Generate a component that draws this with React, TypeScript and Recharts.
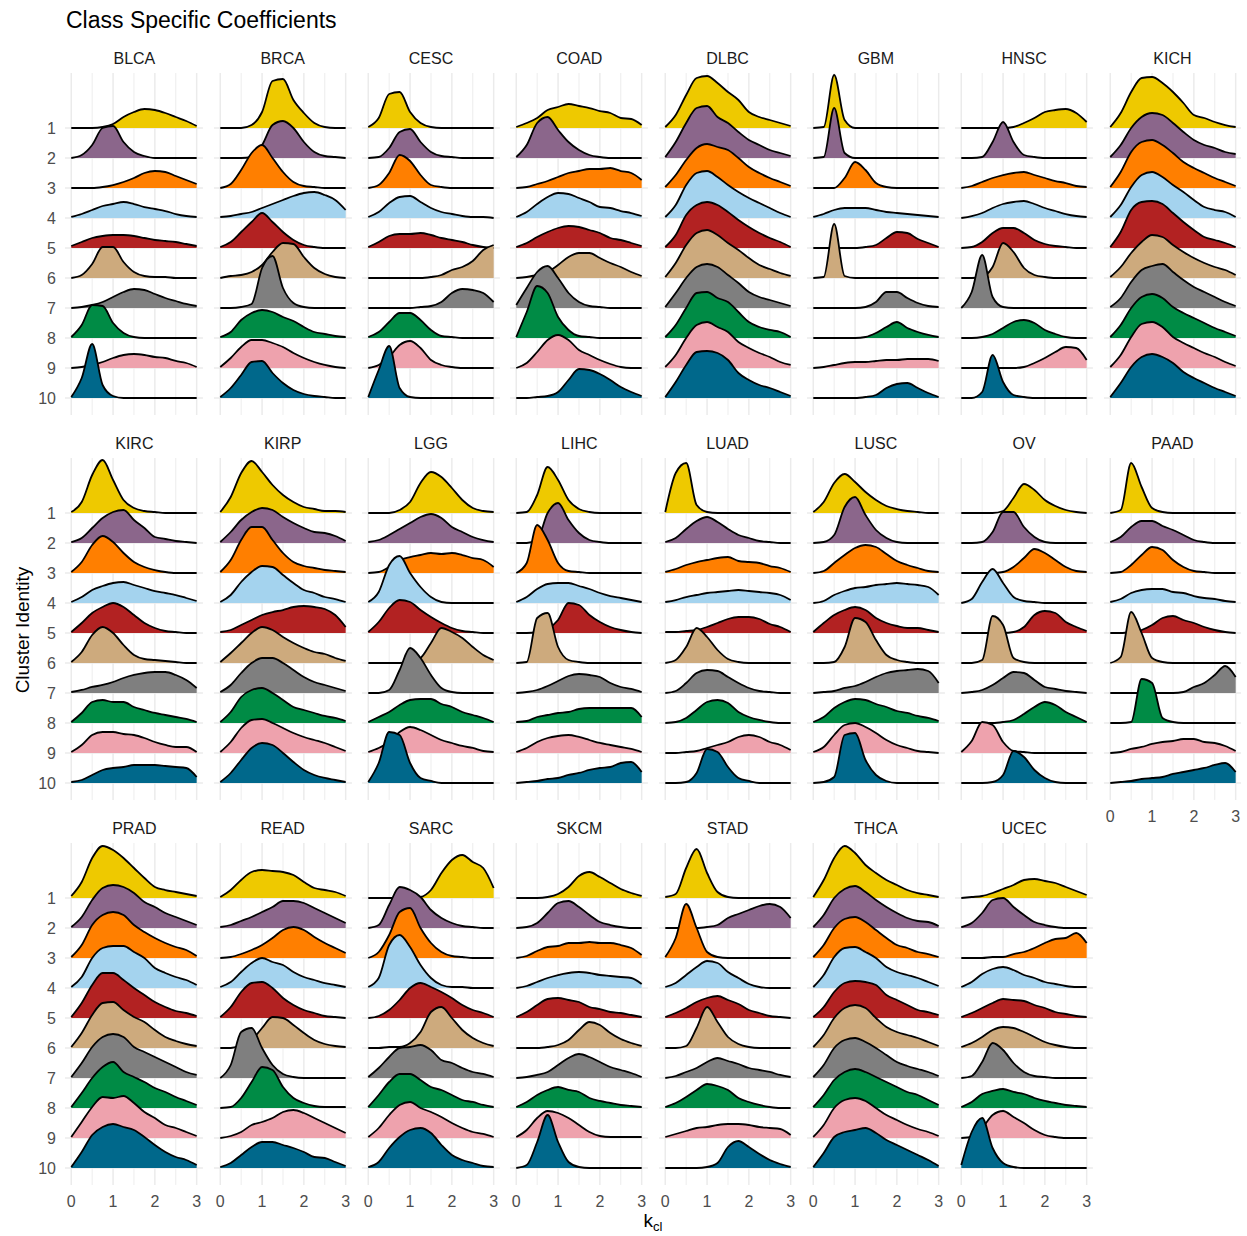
import React from 'react';
import { AreaChart, Area, XAxis, YAxis, CartesianGrid } from 'recharts';

// sample positions of the density curves (k_cl)
const K_VALUES = [0, 0.25, 0.5, 0.75, 1, 1.25, 1.5, 1.75, 2, 2.25, 2.5, 2.75, 3];
const CLUSTERS = ['1', '2', '3', '4', '5', '6', '7', '8', '9', '10'];
const CLUSTER_COLORS = ['#EEC900', '#8B668B', '#FF7F00', '#A4D3EE', '#B22222', '#CDAA7D', '#7F7F7F', '#008B45', '#EEA2AD', '#00688B'];
const X_TICKS = [0, 1, 2, 3];
const X_MINOR = [0.5, 1.5, 2.5];
const CANCER_TYPES = ['BLCA', 'BRCA', 'CESC', 'COAD', 'DLBC', 'GBM', 'HNSC', 'KICH', 'KIRC', 'KIRP', 'LGG', 'LIHC', 'LUAD', 'LUSC', 'OV', 'PAAD', 'PRAD', 'READ', 'SARC', 'SKCM', 'STAD', 'THCA', 'UCEC'];

// ridge heights (scaled density; one row spacing = 30), cluster 1..10, at K_VALUES
const BLCA = [
  [0, 0, 0, 1, 4, 11, 16, 19, 18, 15, 11, 7, 2],
  [0, 3, 13, 30, 32, 16, 6, 2, 0, 0, 0, 0, 0],
  [0, 0, 0, 1, 3, 6, 10, 15, 17, 16, 12, 8, 4],
  [1, 4, 8, 12, 14, 16, 14, 11, 9, 7, 4, 2, 1],
  [2, 6, 10, 12, 13, 13, 12, 10, 8, 7, 6, 4, 2],
  [0, 3, 14, 31, 31, 16, 6, 2, 1, 1, 0, 0, 0],
  [0, 1, 3, 6, 11, 16, 19, 18, 14, 10, 7, 4, 2],
  [1, 13, 33, 32, 15, 5, 1, 0, 0, 0, 0, 0, 0],
  [0, 1, 3, 6, 10, 13, 14, 13, 11, 10, 7, 5, 1],
  [1, 20, 54, 13, 2, 0, 0, 0, 0, 0, 0, 0, 0],
];
const BRCA = [
  [0, 0, 0, 3, 16, 47, 49, 28, 15, 5, 1, 0, 0],
  [0, 0, 0, 1, 13, 33, 37, 30, 16, 6, 2, 1, 0],
  [0, 4, 18, 35, 43, 30, 16, 6, 2, 1, 0, 0, 0],
  [1, 2, 4, 6, 10, 14, 18, 22, 25, 26, 23, 18, 8],
  [1, 6, 16, 26, 35, 26, 16, 8, 3, 1, 0, 0, 0],
  [0, 2, 3, 6, 13, 26, 35, 34, 21, 10, 4, 1, 0],
  [0, 0, 1, 4, 40, 52, 20, 5, 1, 0, 0, 0, 0],
  [1, 6, 18, 25, 28, 26, 21, 17, 11, 6, 4, 2, 1],
  [1, 10, 21, 28, 28, 25, 21, 15, 10, 6, 3, 1, 0],
  [1, 10, 23, 36, 37, 25, 15, 8, 4, 2, 1, 0, 0],
];
const CESC = [
  [1, 10, 34, 36, 16, 5, 1, 0, 0, 0, 0, 0, 0],
  [0, 1, 10, 26, 29, 16, 6, 2, 1, 0, 0, 0, 0],
  [0, 3, 15, 33, 27, 13, 3, 1, 0, 0, 0, 0, 0],
  [1, 6, 15, 21, 22, 16, 10, 6, 4, 2, 1, 1, 0],
  [1, 6, 12, 14, 14, 15, 13, 10, 8, 6, 3, 1, 0],
  [0, 0, 0, 0, 0, 0, 1, 3, 8, 11, 17, 28, 33],
  [0, 0, 0, 0, 0, 1, 2, 6, 15, 19, 18, 15, 6],
  [1, 6, 16, 25, 25, 18, 8, 2, 1, 0, 0, 0, 0],
  [0, 3, 11, 23, 27, 20, 8, 3, 1, 0, 0, 0, 0],
  [1, 28, 52, 10, 1, 0, 0, 0, 0, 0, 0, 0, 0],
];
const COAD = [
  [1, 5, 10, 18, 21, 24, 22, 20, 17, 15, 10, 9, 3],
  [1, 13, 35, 41, 28, 16, 8, 3, 1, 0, 0, 0, 0],
  [0, 1, 4, 7, 11, 15, 17, 19, 19, 20, 17, 15, 8],
  [1, 6, 14, 21, 25, 24, 20, 16, 11, 10, 7, 5, 2],
  [1, 5, 11, 16, 20, 22, 21, 18, 15, 10, 8, 5, 2],
  [0, 1, 3, 6, 13, 21, 25, 25, 20, 15, 11, 6, 2],
  [3, 20, 36, 42, 30, 15, 6, 2, 1, 0, 0, 0, 0],
  [1, 26, 52, 45, 21, 8, 2, 1, 0, 0, 0, 0, 0],
  [0, 5, 16, 28, 33, 28, 18, 13, 8, 4, 1, 0, 0],
  [0, 0, 1, 2, 6, 18, 29, 28, 24, 18, 11, 6, 2],
];
const DLBC = [
  [1, 13, 33, 50, 52, 45, 36, 28, 16, 11, 8, 5, 2],
  [1, 16, 35, 50, 52, 41, 35, 26, 18, 13, 8, 5, 2],
  [1, 13, 28, 40, 44, 41, 38, 30, 21, 15, 10, 6, 2],
  [1, 13, 33, 45, 47, 41, 33, 26, 20, 15, 10, 5, 1],
  [1, 13, 33, 43, 46, 43, 36, 28, 21, 15, 10, 6, 1],
  [1, 15, 33, 45, 48, 43, 35, 28, 20, 13, 9, 5, 2],
  [1, 15, 30, 41, 44, 41, 33, 25, 16, 11, 8, 5, 2],
  [1, 13, 30, 45, 46, 40, 36, 26, 16, 11, 8, 6, 1],
  [1, 13, 30, 43, 46, 41, 36, 26, 20, 15, 11, 6, 3],
  [1, 16, 33, 46, 47, 45, 38, 25, 18, 13, 10, 6, 2],
];
const GBM = [
  [0, 1, 53, 8, 0, 0, 0, 0, 0, 0, 0, 0, 0],
  [0, 1, 50, 5, 0, 0, 0, 0, 0, 0, 0, 0, 0],
  [0, 0, 0, 10, 26, 18, 5, 1, 0, 0, 0, 0, 0],
  [1, 4, 8, 10, 10, 10, 8, 6, 5, 4, 3, 2, 1],
  [0, 0, 0, 0, 0, 1, 3, 10, 16, 15, 9, 5, 1],
  [0, 1, 54, 2, 0, 0, 0, 0, 0, 0, 0, 0, 0],
  [0, 0, 0, 0, 0, 1, 6, 16, 16, 10, 5, 2, 1],
  [0, 0, 0, 0, 0, 1, 5, 11, 16, 10, 6, 3, 1],
  [0, 1, 3, 5, 6, 6, 7, 8, 8, 9, 9, 9, 7],
  [0, 0, 0, 0, 0, 1, 3, 10, 14, 15, 10, 5, 1],
];
const HNSC = [
  [0, 0, 0, 0, 0, 1, 5, 10, 16, 18, 19, 15, 6],
  [0, 0, 1, 16, 36, 16, 3, 1, 0, 0, 0, 0, 0],
  [0, 2, 6, 10, 13, 15, 16, 13, 10, 7, 5, 2, 1],
  [0, 2, 5, 10, 14, 16, 17, 14, 10, 7, 4, 2, 1],
  [0, 1, 6, 15, 20, 20, 15, 8, 4, 2, 1, 0, 0],
  [0, 0, 1, 11, 35, 26, 10, 3, 1, 0, 0, 0, 0],
  [0, 16, 53, 11, 1, 0, 0, 0, 0, 0, 0, 0, 0],
  [0, 0, 1, 4, 10, 16, 18, 15, 8, 4, 1, 0, 0],
  [0, 0, 0, 0, 0, 0, 1, 5, 10, 16, 21, 20, 8],
  [0, 0, 6, 43, 16, 3, 1, 0, 0, 0, 0, 0, 0],
];
const KICH = [
  [1, 15, 36, 50, 51, 45, 36, 25, 13, 10, 6, 3, 1],
  [1, 13, 30, 41, 45, 43, 35, 26, 18, 13, 10, 6, 4],
  [1, 16, 36, 46, 48, 43, 35, 26, 20, 15, 10, 6, 2],
  [1, 13, 31, 43, 46, 41, 33, 26, 18, 11, 8, 6, 1],
  [1, 16, 38, 46, 47, 44, 35, 26, 18, 11, 8, 5, 1],
  [1, 11, 25, 36, 43, 41, 33, 26, 20, 15, 11, 8, 3],
  [1, 10, 26, 38, 42, 44, 36, 28, 21, 16, 11, 6, 2],
  [1, 13, 30, 41, 44, 40, 31, 25, 20, 15, 10, 6, 2],
  [1, 13, 31, 44, 46, 41, 31, 25, 20, 15, 11, 6, 2],
  [1, 15, 31, 41, 44, 41, 35, 26, 20, 15, 10, 6, 2],
];
const KIRC = [
  [1, 11, 38, 53, 33, 13, 5, 2, 1, 0, 0, 0, 0],
  [1, 5, 15, 25, 31, 33, 23, 15, 6, 4, 2, 1, 0],
  [1, 11, 28, 37, 31, 20, 11, 6, 3, 1, 0, 0, 0],
  [1, 6, 13, 17, 20, 21, 18, 15, 12, 10, 8, 5, 2],
  [1, 10, 20, 26, 30, 26, 18, 10, 5, 2, 1, 0, 0],
  [1, 11, 28, 36, 30, 18, 8, 4, 3, 2, 1, 0, 0],
  [1, 3, 6, 8, 11, 15, 18, 20, 21, 21, 18, 13, 5],
  [1, 10, 21, 23, 21, 21, 16, 13, 10, 8, 6, 4, 1],
  [1, 8, 18, 21, 21, 19, 18, 15, 11, 8, 6, 6, 1],
  [1, 3, 8, 13, 15, 16, 18, 18, 18, 17, 16, 15, 6],
];
const KIRP = [
  [1, 16, 40, 52, 41, 28, 18, 11, 6, 4, 2, 2, 1],
  [1, 11, 23, 31, 35, 33, 26, 20, 15, 11, 10, 7, 2],
  [1, 13, 33, 46, 46, 33, 20, 11, 7, 5, 3, 2, 1],
  [1, 8, 21, 31, 37, 36, 28, 20, 13, 10, 6, 4, 1],
  [1, 3, 8, 13, 18, 21, 23, 26, 27, 26, 24, 18, 6],
  [1, 10, 20, 30, 36, 33, 26, 20, 15, 11, 9, 5, 2],
  [1, 8, 20, 30, 35, 35, 30, 23, 16, 11, 8, 5, 2],
  [1, 11, 26, 33, 35, 30, 23, 16, 13, 10, 7, 5, 2],
  [1, 11, 25, 33, 34, 30, 25, 20, 16, 13, 10, 6, 2],
  [1, 10, 23, 35, 40, 38, 30, 21, 13, 8, 5, 3, 1],
];
const LGG = [
  [0, 0, 0, 3, 11, 30, 41, 36, 25, 13, 5, 2, 1],
  [1, 3, 8, 14, 20, 26, 29, 25, 16, 11, 6, 3, 1],
  [0, 1, 6, 13, 16, 18, 20, 19, 20, 18, 15, 13, 6],
  [1, 11, 38, 47, 30, 16, 6, 1, 0, 0, 0, 0, 0],
  [1, 11, 25, 33, 31, 23, 16, 10, 5, 2, 1, 0, 0],
  [0, 0, 0, 0, 1, 5, 20, 35, 31, 25, 16, 8, 3],
  [0, 0, 3, 23, 45, 35, 18, 5, 1, 0, 0, 0, 0],
  [1, 6, 11, 18, 23, 24, 24, 19, 16, 11, 8, 5, 1],
  [1, 5, 11, 21, 26, 23, 18, 13, 10, 7, 5, 2, 1],
  [1, 20, 51, 48, 20, 5, 2, 0, 0, 0, 0, 0, 0],
];
const LIHC = [
  [0, 1, 18, 46, 33, 13, 4, 1, 0, 0, 0, 0, 0],
  [0, 0, 3, 30, 40, 23, 10, 3, 1, 0, 0, 0, 0],
  [0, 10, 48, 33, 10, 2, 1, 0, 0, 0, 0, 0, 0],
  [1, 6, 14, 19, 20, 20, 17, 14, 10, 7, 5, 3, 1],
  [0, 0, 1, 4, 13, 30, 28, 18, 11, 6, 3, 1, 0],
  [0, 1, 45, 50, 16, 3, 1, 0, 0, 0, 0, 0, 0],
  [0, 1, 3, 7, 12, 17, 19, 18, 16, 10, 6, 4, 1],
  [1, 2, 6, 8, 10, 11, 14, 15, 15, 15, 15, 15, 6],
  [1, 5, 11, 15, 17, 18, 16, 13, 10, 8, 6, 4, 1],
  [0, 1, 2, 4, 5, 8, 10, 13, 15, 16, 20, 21, 11],
];
const LUAD = [
  [1, 40, 50, 8, 1, 0, 0, 0, 0, 0, 0, 0, 0],
  [1, 5, 14, 22, 26, 21, 14, 8, 5, 2, 1, 0, 0],
  [1, 4, 8, 11, 13, 15, 16, 12, 11, 10, 7, 5, 1],
  [1, 3, 6, 8, 10, 11, 12, 13, 12, 11, 10, 8, 3],
  [1, 1, 2, 3, 6, 10, 14, 16, 16, 14, 9, 6, 1],
  [0, 3, 16, 35, 26, 13, 4, 1, 0, 0, 0, 0, 0],
  [0, 2, 10, 20, 23, 22, 16, 10, 5, 2, 1, 0, 0],
  [0, 1, 5, 13, 21, 23, 20, 11, 6, 3, 1, 0, 0],
  [0, 0, 1, 2, 5, 8, 11, 16, 18, 16, 11, 8, 3],
  [0, 0, 1, 10, 34, 31, 16, 5, 2, 0, 0, 0, 0],
];
const LUSC = [
  [1, 11, 30, 39, 31, 21, 13, 7, 4, 2, 1, 0, 0],
  [0, 1, 8, 36, 46, 28, 13, 5, 1, 0, 0, 0, 0],
  [0, 2, 10, 18, 25, 28, 26, 19, 12, 8, 5, 2, 1],
  [0, 2, 8, 12, 15, 16, 18, 19, 20, 19, 18, 16, 8],
  [1, 10, 18, 23, 26, 23, 15, 10, 7, 5, 5, 3, 1],
  [0, 0, 1, 16, 45, 41, 23, 8, 3, 1, 0, 0, 0],
  [0, 1, 2, 5, 7, 11, 16, 20, 22, 23, 24, 22, 10],
  [1, 6, 15, 21, 24, 23, 19, 16, 12, 10, 7, 5, 2],
  [1, 6, 18, 28, 30, 26, 20, 13, 8, 5, 2, 1, 0],
  [0, 1, 6, 48, 50, 23, 8, 2, 0, 0, 0, 0, 0],
];
const OV = [
  [0, 0, 0, 0, 2, 15, 29, 23, 13, 7, 3, 1, 0],
  [0, 0, 1, 11, 31, 31, 16, 6, 1, 0, 0, 0, 0],
  [0, 0, 0, 0, 1, 6, 15, 24, 20, 13, 6, 2, 1],
  [0, 4, 21, 34, 20, 6, 2, 1, 0, 0, 0, 0, 0],
  [0, 0, 0, 0, 0, 1, 6, 18, 22, 20, 11, 6, 2],
  [0, 0, 3, 47, 38, 5, 1, 0, 0, 0, 0, 0, 0],
  [0, 1, 3, 8, 15, 21, 20, 13, 6, 4, 2, 1, 0],
  [0, 0, 0, 0, 1, 3, 9, 16, 21, 18, 11, 6, 1],
  [1, 12, 31, 28, 11, 2, 1, 0, 0, 0, 0, 0, 0],
  [0, 0, 0, 1, 8, 32, 26, 13, 5, 1, 0, 0, 0],
];
const PAAD = [
  [0, 3, 50, 26, 5, 1, 0, 0, 0, 0, 0, 0, 0],
  [1, 6, 16, 22, 22, 17, 13, 8, 3, 1, 0, 0, 0],
  [0, 1, 8, 18, 26, 23, 13, 6, 2, 1, 0, 0, 0],
  [1, 4, 10, 13, 14, 14, 11, 10, 7, 5, 4, 2, 1],
  [0, 0, 1, 3, 8, 15, 17, 13, 10, 6, 3, 1, 0],
  [0, 6, 51, 30, 5, 1, 0, 0, 0, 0, 0, 0, 0],
  [0, 0, 0, 0, 0, 0, 0, 1, 6, 10, 18, 27, 16],
  [0, 0, 1, 44, 40, 5, 1, 0, 0, 0, 0, 0, 0],
  [0, 1, 4, 6, 9, 11, 12, 14, 14, 11, 10, 7, 2],
  [0, 1, 2, 4, 5, 6, 9, 11, 13, 15, 18, 20, 11],
];
const PRAD = [
  [2, 16, 40, 52, 48, 40, 30, 20, 11, 8, 6, 4, 2],
  [1, 11, 28, 40, 43, 41, 35, 26, 21, 15, 11, 7, 3],
  [1, 13, 33, 43, 46, 43, 33, 26, 20, 15, 11, 8, 2],
  [1, 11, 30, 40, 42, 42, 36, 30, 20, 15, 11, 8, 3],
  [1, 15, 33, 45, 45, 38, 30, 23, 16, 11, 7, 5, 2],
  [1, 15, 33, 45, 46, 38, 31, 26, 18, 11, 7, 4, 2],
  [1, 15, 31, 41, 44, 41, 31, 26, 21, 16, 11, 6, 3],
  [1, 15, 30, 41, 46, 36, 31, 26, 20, 16, 11, 7, 3],
  [1, 16, 31, 41, 40, 42, 35, 26, 20, 13, 10, 6, 2],
  [1, 16, 33, 41, 44, 41, 38, 31, 23, 16, 11, 8, 3],
];
const READ = [
  [1, 8, 18, 26, 28, 27, 26, 23, 16, 10, 8, 6, 2],
  [1, 3, 7, 11, 16, 21, 27, 27, 25, 20, 15, 10, 5],
  [0, 1, 4, 8, 13, 20, 28, 31, 28, 21, 15, 10, 5],
  [1, 6, 16, 25, 30, 26, 23, 16, 11, 8, 5, 3, 1],
  [1, 11, 26, 35, 36, 30, 20, 13, 8, 5, 2, 1, 0],
  [0, 0, 3, 8, 20, 31, 30, 23, 15, 8, 4, 2, 1],
  [0, 13, 46, 50, 30, 13, 4, 1, 0, 0, 0, 0, 0],
  [0, 1, 10, 26, 41, 38, 21, 10, 5, 2, 1, 1, 1],
  [0, 2, 6, 13, 16, 20, 26, 28, 25, 20, 15, 10, 5],
  [1, 5, 13, 21, 26, 26, 23, 20, 16, 11, 10, 6, 2],
];
const SARC = [
  [0, 0, 0, 0, 0, 1, 8, 25, 38, 43, 36, 30, 10],
  [0, 3, 23, 41, 38, 31, 18, 10, 5, 2, 1, 0, 0],
  [0, 6, 23, 46, 50, 30, 15, 6, 2, 1, 0, 0, 0],
  [1, 10, 43, 53, 41, 23, 10, 3, 1, 1, 0, 0, 0],
  [0, 2, 8, 18, 30, 35, 31, 26, 20, 13, 8, 5, 1],
  [0, 0, 1, 1, 5, 16, 36, 41, 30, 18, 10, 5, 2],
  [1, 10, 21, 30, 31, 33, 28, 18, 15, 10, 6, 4, 1],
  [1, 13, 26, 34, 34, 28, 21, 18, 13, 8, 6, 3, 1],
  [1, 10, 23, 33, 36, 30, 26, 21, 15, 10, 6, 4, 1],
  [1, 6, 20, 31, 38, 40, 35, 23, 13, 8, 5, 2, 1],
];
const SKCM = [
  [0, 0, 0, 1, 4, 11, 22, 26, 21, 15, 9, 5, 2],
  [0, 1, 5, 15, 25, 27, 21, 13, 6, 3, 1, 0, 0],
  [0, 2, 7, 11, 12, 15, 15, 16, 15, 15, 13, 10, 3],
  [0, 2, 6, 10, 13, 15, 16, 15, 13, 12, 11, 10, 4],
  [1, 6, 13, 19, 20, 18, 16, 11, 9, 6, 5, 3, 1],
  [0, 0, 0, 1, 3, 8, 18, 26, 23, 15, 9, 5, 2],
  [0, 1, 3, 6, 13, 20, 24, 21, 16, 11, 8, 5, 1],
  [1, 6, 13, 18, 21, 18, 16, 10, 7, 5, 3, 2, 1],
  [1, 8, 20, 27, 25, 20, 13, 6, 2, 1, 1, 1, 1],
  [0, 3, 26, 53, 26, 6, 1, 0, 0, 0, 0, 0, 0],
];
const STAD = [
  [1, 4, 30, 49, 25, 6, 1, 0, 0, 0, 0, 0, 0],
  [0, 0, 0, 0, 1, 3, 10, 14, 18, 22, 24, 21, 10],
  [1, 20, 54, 30, 6, 1, 0, 0, 0, 0, 0, 0, 0],
  [1, 5, 13, 21, 27, 25, 16, 10, 4, 1, 0, 0, 0],
  [1, 5, 10, 16, 20, 22, 18, 14, 8, 5, 2, 1, 0],
  [0, 0, 2, 20, 41, 26, 11, 4, 1, 0, 0, 0, 0],
  [0, 2, 6, 10, 16, 20, 17, 14, 10, 8, 6, 3, 1],
  [1, 5, 11, 18, 24, 22, 18, 10, 6, 3, 1, 0, 0],
  [1, 4, 7, 10, 11, 13, 14, 14, 13, 11, 10, 9, 3],
  [0, 0, 0, 0, 1, 5, 21, 27, 21, 14, 8, 4, 1],
];
const THCA = [
  [1, 18, 40, 52, 45, 33, 25, 18, 13, 8, 5, 3, 1],
  [1, 13, 30, 39, 42, 36, 28, 21, 15, 10, 7, 6, 2],
  [1, 13, 30, 39, 41, 36, 28, 20, 13, 10, 6, 4, 1],
  [1, 13, 31, 40, 41, 36, 30, 21, 16, 13, 10, 6, 2],
  [1, 11, 26, 35, 37, 36, 33, 23, 18, 13, 8, 6, 3],
  [1, 13, 30, 40, 43, 40, 30, 21, 16, 13, 10, 6, 2],
  [1, 13, 30, 38, 40, 36, 30, 23, 16, 12, 9, 6, 2],
  [1, 13, 28, 36, 39, 36, 31, 26, 21, 16, 13, 8, 3],
  [1, 13, 30, 38, 40, 37, 30, 23, 18, 13, 9, 6, 2],
  [1, 15, 31, 36, 38, 40, 35, 28, 23, 18, 13, 8, 2],
];
const UCEC = [
  [0, 1, 2, 5, 9, 13, 18, 19, 17, 15, 11, 7, 3],
  [1, 5, 15, 28, 30, 21, 13, 6, 3, 1, 0, 0, 0],
  [0, 0, 0, 1, 1, 4, 6, 10, 15, 19, 20, 25, 15],
  [1, 6, 14, 19, 21, 18, 13, 10, 6, 4, 2, 1, 1],
  [1, 5, 10, 15, 19, 18, 17, 13, 10, 6, 4, 2, 1],
  [1, 5, 11, 18, 21, 20, 16, 11, 6, 3, 1, 0, 0],
  [0, 2, 16, 35, 28, 15, 6, 2, 1, 0, 0, 0, 0],
  [1, 6, 14, 17, 19, 16, 14, 10, 7, 5, 3, 2, 1],
  [0, 1, 10, 23, 27, 21, 15, 8, 3, 1, 0, 0, 0],
  [3, 36, 50, 20, 5, 1, 0, 0, 0, 0, 0, 0, 0],
];

const RIDGES: Record<string, number[][]> = {
  BLCA, BRCA, CESC, COAD, DLBC, GBM, HNSC, KICH, KIRC, KIRP, LGG, LIHC,
  LUAD, LUSC, OV, PAAD, PRAD, READ, SARC, SKCM, STAD, THCA, UCEC,
};

// ---- layout ----
const FONT = '"Liberation Sans", Arial, Helvetica, sans-serif';
const COLS = 8;
const UNIT = 41.8;
const X_MIN = -0.15;
const X_MAX = 3.15;
const PLOT_W = (X_MAX - X_MIN) * UNIT;
const PLOT_H = 342;
const ROW_STEP = 30;
const Y_MIN = 13;
const Y_MAX = 355;
const COL_LEFT0 = 65.4;
const COL_PITCH = 148.3;
const ROW_TOPS = [73, 458, 843];
const Y_AXIS_W = 60;
const X_AXIS_H = 30;
const GRID = '#EBEBEB';

const baseOf = (i: number) => (CLUSTERS.length - i) * ROW_STEP;
const BASES = CLUSTERS.map((_, i) => baseOf(i));

function Panel({ name, index }: { name: string; index: number }) {
  const col = index % COLS;
  const row = Math.floor(index / COLS);
  const hasY = col === 0;
  const hasX = row === 2 || name === 'PAAD';
  const ridges = RIDGES[name];
  const data = K_VALUES.map((k, j) => {
    const d: Record<string, number> = { k };
    ridges.forEach((h, i) => {
      d['c' + i] = baseOf(i) + h[j];
    });
    return d;
  });
  const width = PLOT_W + (hasY ? Y_AXIS_W : 0);
  const height = PLOT_H + (hasX ? X_AXIS_H : 0);
  const left = COL_LEFT0 + col * COL_PITCH - (hasY ? Y_AXIS_W : 0);
  const top = ROW_TOPS[row];
  return (
    <div style={{ position: 'absolute', left, top, width, height }}>
      <AreaChart width={width} height={height} data={data} margin={{ top: 0, right: 0, bottom: 0, left: 0 }}>
        <CartesianGrid horizontal={false} verticalValues={X_MINOR} stroke={GRID} strokeWidth={0.9} />
        <CartesianGrid verticalValues={X_TICKS} horizontalValues={BASES} stroke={GRID} strokeWidth={1.5} />
        <XAxis
          type="number"
          dataKey="k"
          domain={[X_MIN, X_MAX]}
          allowDataOverflow
          ticks={X_TICKS}
          interval={0}
          hide={!hasX}
          height={X_AXIS_H}
          tickLine={false}
          axisLine={false}
          tickSize={0}
          tickMargin={11}
          tick={{ fontSize: 16, fill: '#4d4d4d', fontFamily: FONT }}
        />
        <YAxis
          type="number"
          domain={[Y_MIN, Y_MAX]}
          allowDataOverflow
          ticks={BASES}
          interval={0}
          tickFormatter={(v: number) => CLUSTERS[CLUSTERS.length - Math.round(v / ROW_STEP)]}
          hide={!hasY}
          width={Y_AXIS_W}
          tickLine={false}
          axisLine={false}
          tickSize={0}
          tickMargin={9}
          tick={{ fontSize: 16, fill: '#4d4d4d', fontFamily: FONT }}
        />
        {CLUSTERS.map((c, i) => (
          <Area
            key={c}
            type="monotone"
            dataKey={'c' + i}
            baseValue={baseOf(i)}
            stroke="#000000"
            strokeWidth={1.8}
            strokeLinejoin="round"
            fill={CLUSTER_COLORS[i]}
            fillOpacity={1}
            dot={false}
            activeDot={false}
            isAnimationActive={false}
          />
        ))}
      </AreaChart>
    </div>
  );
}

export default function App() {
  return (
    <div style={{ position: 'absolute', left: 0, top: 0, width: 1247, height: 1236, background: '#ffffff', fontFamily: FONT, overflow: 'hidden' }}>
      {CANCER_TYPES.map((name, idx) => (
        <Panel key={name} name={name} index={idx} />
      ))}
      <svg width={1247} height={1236} style={{ position: 'absolute', left: 0, top: 0, pointerEvents: 'none' }} fontFamily={FONT}>
        <text x={66} y={27.5} fontSize={23} fill="#000000">Class Specific Coefficients</text>
        {CANCER_TYPES.map((name, idx) => {
          const col = idx % COLS;
          const row = Math.floor(idx / COLS);
          return (
            <text key={name} x={COL_LEFT0 + col * COL_PITCH + PLOT_W / 2} y={ROW_TOPS[row] - 8.7} textAnchor="middle" fontSize={16} fill="#1a1a1a">
              {name}
            </text>
          );
        })}
        <text transform="translate(28.5,630) rotate(-90)" textAnchor="middle" fontSize={19} fill="#000000">Cluster Identity</text>
        <text x={653} y={1227} textAnchor="middle" fontSize={19} fill="#000000">
          k<tspan fontSize={13} dy={4}>cl</tspan>
        </text>
      </svg>
    </div>
  );
}
